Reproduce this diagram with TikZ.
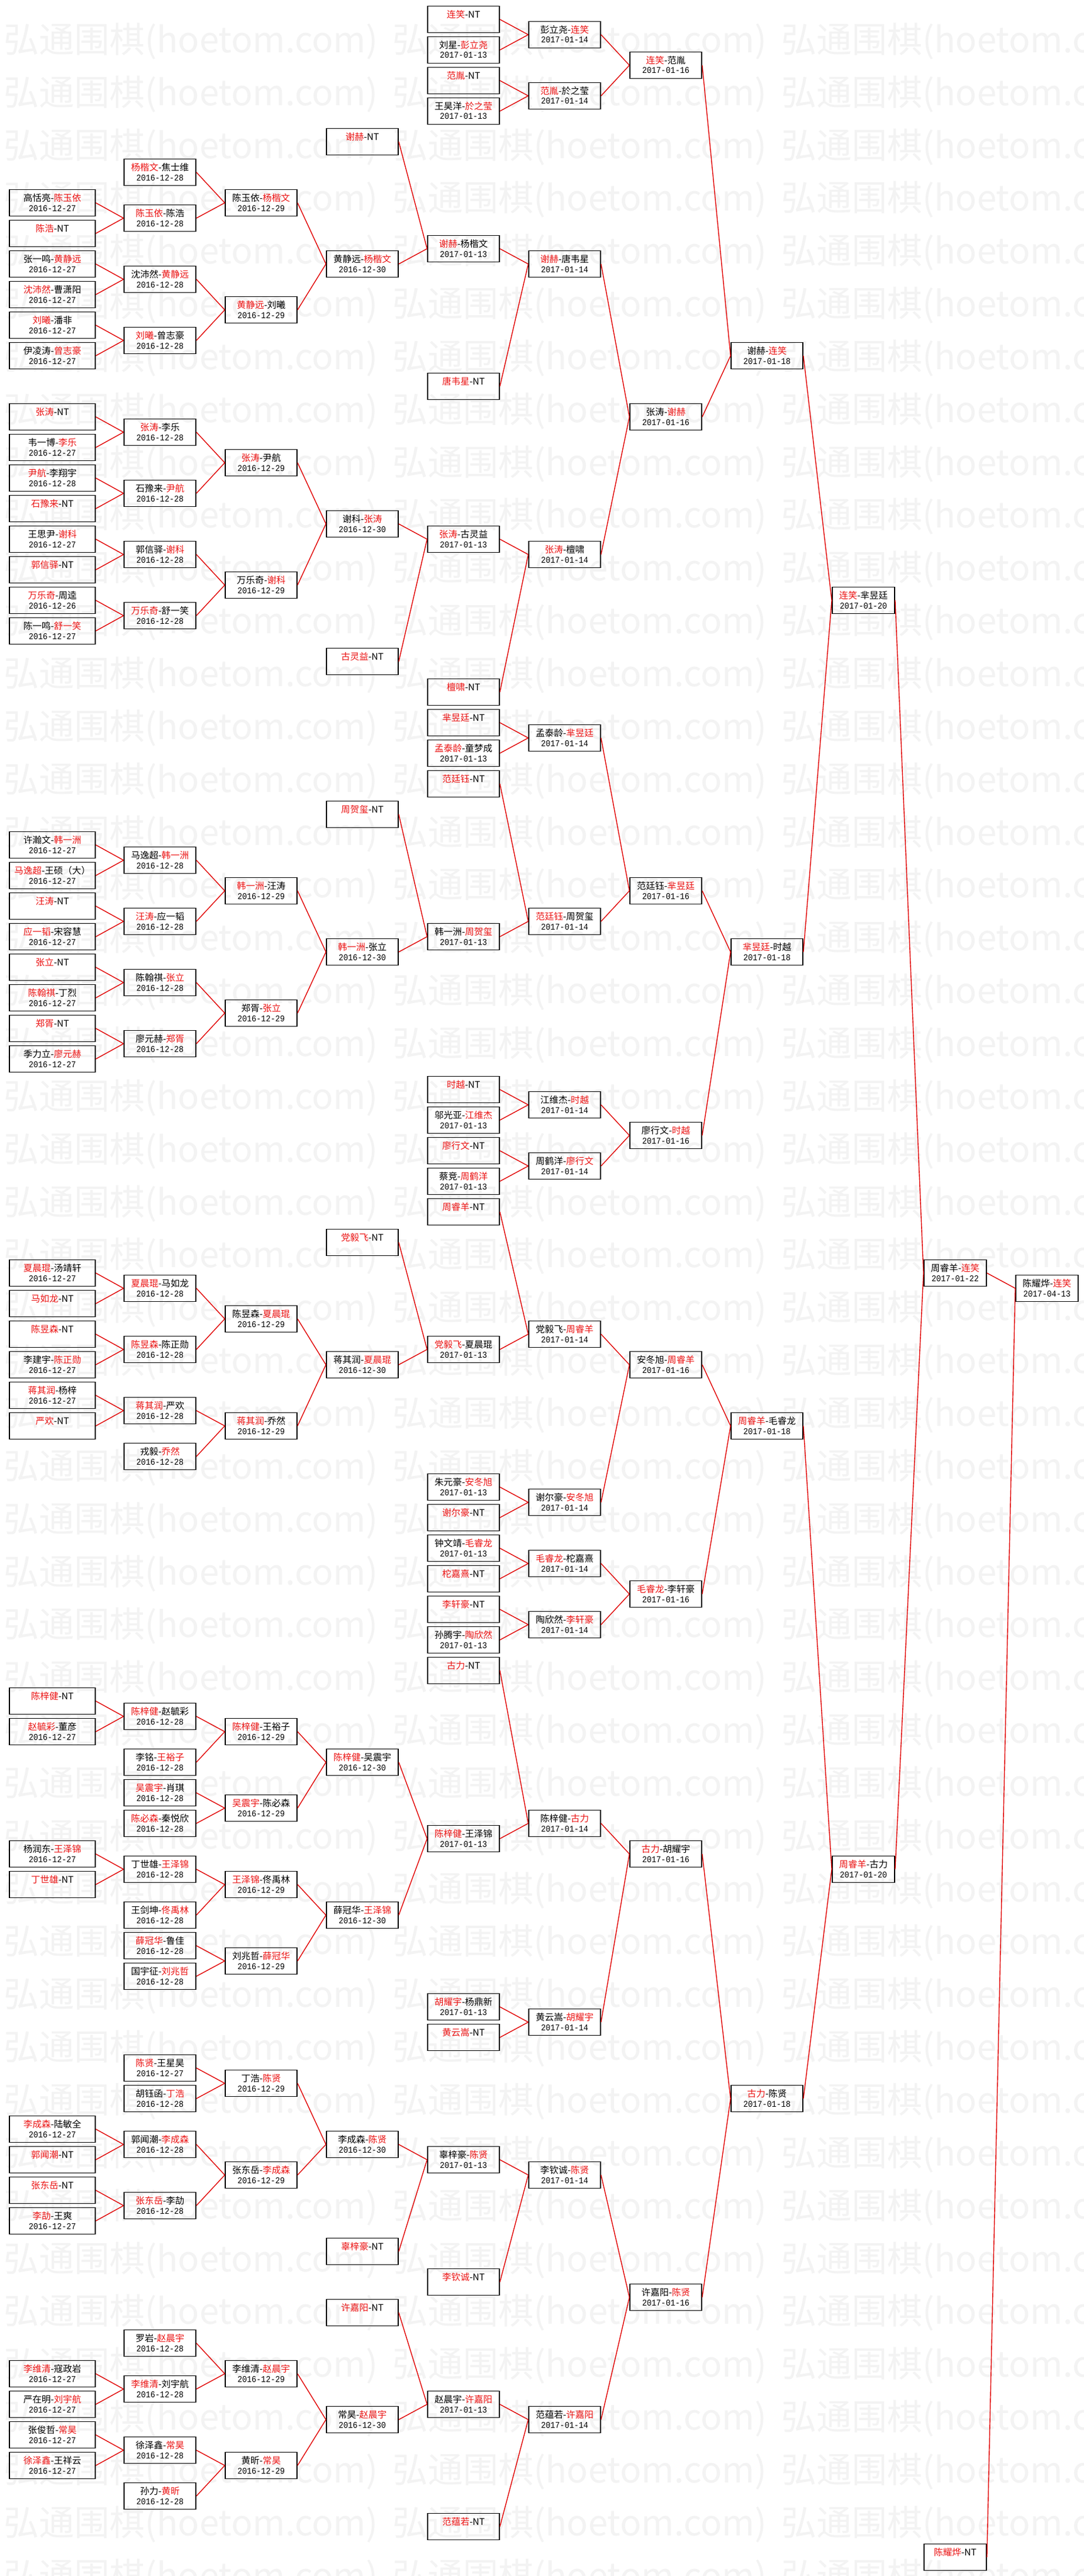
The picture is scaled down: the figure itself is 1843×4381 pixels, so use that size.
\documentclass[tikz,border=0pt]{standalone}
\usepackage{fontspec}
\setmainfont{Noto Sans CJK SC}
\newfontfamily\datefont[FakeStretch=0.89]{Liberation Mono}
\newfontfamily\wmfont{Noto Sans CJK SC}
\definecolor{winred}{RGB}{235,20,20}
\definecolor{conred}{RGB}{225,0,0}
\definecolor{wmgray}{RGB}{243,243,243}
\newcommand{\rd}[1]{\textcolor{winred}{#1}}
% column left edges and widths (px)
\def\cxA{16}\def\cwA{146}
\def\cxB{211}\def\cwB{122}
\def\cxC{383}\def\cwC{122}
\def\cxD{555}\def\cwD{122}
\def\cxE{727}\def\cwE{122}
\def\cxF{899}\def\cwF{122}
\def\cxG{1071}\def\cwG{122}
\def\cxH{1243}\def\cwH{122}
\def\cxI{1415}\def\cwI{106}
\def\cxJ{1571}\def\cwJ{106}
\def\cxK{1727}\def\cwK{106}
\tikzset{
  gbox/.style={draw=black,line width=1.8pt,rectangle,minimum height=45pt,inner sep=0pt},
  gname/.style={anchor=base,inner sep=0pt,font=\fontsize{15.5}{18}\selectfont},
  gdate/.style={anchor=base,inner sep=0pt,font=\datefont\fontsize{15}{18}\selectfont},
  conn/.style={draw=conred,line width=1.4pt},
  wm/.style={anchor=west,inner sep=0pt,text=wmgray,font=\wmfont\fontsize{60}{60}\selectfont}
}
% match box with date
\newcommand{\gm}[5]{%
  \pgfmathsetmacro{\bxX}{\csname cx#2\endcsname}%
  \pgfmathsetmacro{\bxW}{\csname cw#2\endcsname}%
  \pgfmathsetmacro{\bxY}{10.5+52*#3}%
  \node[gbox,minimum width=\bxW pt] (#1) at (\bxX+\bxW/2,\bxY+22.5) {};
  \node[gname] (#1-n) at (\bxX+\bxW/2,\bxY+19.7) {#4};
  \node[gdate] (#1-d) at (\bxX+\bxW/2,\bxY+36.5) {#5};
}
% bye box (one line)
\newcommand{\gn}[4]{%
  \pgfmathsetmacro{\bxX}{\csname cx#2\endcsname}%
  \pgfmathsetmacro{\bxW}{\csname cw#2\endcsname}%
  \pgfmathsetmacro{\bxY}{10.5+52*#3}%
  \node[gbox,minimum width=\bxW pt] (#1) at (\bxX+\bxW/2,\bxY+22.5) {};
  \node[gname] (#1-n) at (\bxX+\bxW/2,\bxY+19.7) {#4};
}
\newcommand{\cn}[3]{\draw[conn] (#2.east) -- (#1.west); \draw[conn] (#3.east) -- (#1.west);}
\begin{document}
\begin{tikzpicture}[x=1pt,y=-1pt]
\useasboundingbox (0,0) rectangle (1843,4381);
\fill[white] (0,0) rectangle (1843,4381);
\begin{scope}
\clip (0,0) rectangle (1843,4381);
\foreach \k in {0,...,48}{\foreach \j in {0,1,2}{
  \node[wm] (wm-\k-\j) at ({6+661*\j},{70+89.85*\k}) {弘通围棋(hoetom.com)};
}}
\end{scope}
% ---- top block
\gn{d1}{D}{4}{\rd{谢赫}-NT}
\gn{e1}{E}{0}{\rd{连笑}-NT}
\gm{e2}{E}{1}{刘星-\rd{彭立尧}}{2017-01-13}
\gn{e3}{E}{2}{\rd{范胤}-NT}
\gm{e4}{E}{3}{王昊洋-\rd{於之莹}}{2017-01-13}
\gm{f1}{F}{0.5}{彭立尧-\rd{连笑}}{2017-01-14}
\gm{f2}{F}{2.5}{\rd{范胤}-於之莹}{2017-01-14}
\gm{g1}{G}{1.5}{\rd{连笑}-范胤}{2017-01-16}
\gm{a1}{A}{6}{高恬亮-\rd{陈玉依}}{2016-12-27}
\gn{a2}{A}{7}{\rd{陈浩}-NT}
\gm{a3}{A}{8}{张一鸣-\rd{黄静远}}{2016-12-27}
\gm{a4}{A}{9}{\rd{沈沛然}-曹潇阳}{2016-12-27}
\gm{a5}{A}{10}{\rd{刘曦}-潘非}{2016-12-27}
\gm{a6}{A}{11}{伊凌涛-\rd{曾志豪}}{2016-12-27}
\gm{b1}{B}{5}{\rd{杨楷文}-焦士维}{2016-12-28}
\gm{b2}{B}{6.5}{\rd{陈玉依}-陈浩}{2016-12-28}
\gm{b3}{B}{8.5}{沈沛然-\rd{黄静远}}{2016-12-28}
\gm{b4}{B}{10.5}{\rd{刘曦}-曾志豪}{2016-12-28}
\gm{c1}{C}{6}{陈玉依-\rd{杨楷文}}{2016-12-29}
\gm{c2}{C}{9.5}{\rd{黄静远}-刘曦}{2016-12-29}
\gm{d2}{D}{8}{黄静远-\rd{杨楷文}}{2016-12-30}
\gm{e5}{E}{7.5}{\rd{谢赫}-杨楷文}{2017-01-13}
\gn{e6}{E}{12}{\rd{唐韦星}-NT}
\gm{f3}{F}{8}{\rd{谢赫}-唐韦星}{2017-01-14}
\gn{a7}{A}{13}{\rd{张涛}-NT}
\gm{a8}{A}{14}{韦一博-\rd{李乐}}{2016-12-27}
\gm{a9}{A}{15}{\rd{尹航}-李翔宇}{2016-12-28}
\gn{a10}{A}{16}{\rd{石豫来}-NT}
\gm{a11}{A}{17}{王思尹-\rd{谢科}}{2016-12-27}
\gn{a12}{A}{18}{\rd{郭信驿}-NT}
\gm{a13}{A}{19}{\rd{万乐奇}-周逵}{2016-12-26}
\gm{a14}{A}{20}{陈一鸣-\rd{舒一笑}}{2016-12-27}
\gm{b5}{B}{13.5}{\rd{张涛}-李乐}{2016-12-28}
\gm{b6}{B}{15.5}{石豫来-\rd{尹航}}{2016-12-28}
\gm{b7}{B}{17.5}{郭信驿-\rd{谢科}}{2016-12-28}
\gm{b8}{B}{19.5}{\rd{万乐奇}-舒一笑}{2016-12-28}
\gm{c3}{C}{14.5}{\rd{张涛}-尹航}{2016-12-29}
\gm{c4}{C}{18.5}{万乐奇-\rd{谢科}}{2016-12-29}
\gm{d3}{D}{16.5}{谢科-\rd{张涛}}{2016-12-30}
\gn{d4}{D}{21}{\rd{古灵益}-NT}
\gm{e7}{E}{17}{\rd{张涛}-古灵益}{2017-01-13}
\gn{e8}{E}{22}{\rd{檀啸}-NT}
\gm{f4}{F}{17.5}{\rd{张涛}-檀啸}{2017-01-14}
\gm{g2}{G}{13}{张涛-\rd{谢赫}}{2017-01-16}
\gm{h1}{H}{11}{谢赫-\rd{连笑}}{2017-01-18}
% ---- second block
\gn{e9}{E}{23}{\rd{芈昱廷}-NT}
\gm{e10}{E}{24}{\rd{孟泰龄}-童梦成}{2017-01-13}
\gm{f5}{F}{23.5}{孟泰龄-\rd{芈昱廷}}{2017-01-14}
\gn{e11}{E}{25}{\rd{范廷钰}-NT}
\gn{d5}{D}{26}{\rd{周贺玺}-NT}
\gm{a15}{A}{27}{许瀚文-\rd{韩一洲}}{2016-12-27}
\gm{a16}{A}{28}{\rd{马逸超}-王硕（大）}{2016-12-27}
\gn{a17}{A}{29}{\rd{汪涛}-NT}
\gm{a18}{A}{30}{\rd{应一韬}-宋容慧}{2016-12-27}
\gn{a19}{A}{31}{\rd{张立}-NT}
\gm{a20}{A}{32}{\rd{陈翰祺}-丁烈}{2016-12-27}
\gn{a21}{A}{33}{\rd{郑胥}-NT}
\gm{a22}{A}{34}{季力立-\rd{廖元赫}}{2016-12-27}
\gm{b9}{B}{27.5}{马逸超-\rd{韩一洲}}{2016-12-28}
\gm{b10}{B}{29.5}{\rd{汪涛}-应一韬}{2016-12-28}
\gm{b11}{B}{31.5}{陈翰祺-\rd{张立}}{2016-12-28}
\gm{b12}{B}{33.5}{廖元赫-\rd{郑胥}}{2016-12-28}
\gm{c5}{C}{28.5}{\rd{韩一洲}-汪涛}{2016-12-29}
\gm{c6}{C}{32.5}{郑胥-\rd{张立}}{2016-12-29}
\gm{d6}{D}{30.5}{\rd{韩一洲}-张立}{2016-12-30}
\gm{e12}{E}{30}{韩一洲-\rd{周贺玺}}{2017-01-13}
\gm{f6}{F}{29.5}{\rd{范廷钰}-周贺玺}{2017-01-14}
\gm{g3}{G}{28.5}{范廷钰-\rd{芈昱廷}}{2017-01-16}
\gn{e13}{E}{35}{\rd{时越}-NT}
\gm{e14}{E}{36}{邬光亚-\rd{江维杰}}{2017-01-13}
\gn{e15}{E}{37}{\rd{廖行文}-NT}
\gm{e16}{E}{38}{蔡竞-\rd{周鹤洋}}{2017-01-13}
\gm{f7}{F}{35.5}{江维杰-\rd{时越}}{2017-01-14}
\gm{f8}{F}{37.5}{周鹤洋-\rd{廖行文}}{2017-01-14}
\gm{g4}{G}{36.5}{廖行文-\rd{时越}}{2017-01-16}
\gm{h2}{H}{30.5}{\rd{芈昱廷}-时越}{2017-01-18}
\gm{i1}{I}{19}{\rd{连笑}-芈昱廷}{2017-01-20}
% ---- third block
\gn{e17}{E}{39}{\rd{周睿羊}-NT}
\gn{d7}{D}{40}{\rd{党毅飞}-NT}
\gm{a23}{A}{41}{\rd{夏晨琨}-汤靖轩}{2016-12-27}
\gn{a24}{A}{42}{\rd{马如龙}-NT}
\gn{a25}{A}{43}{\rd{陈昱森}-NT}
\gm{a26}{A}{44}{李建宇-\rd{陈正勋}}{2016-12-27}
\gm{a27}{A}{45}{\rd{蒋其润}-杨梓}{2016-12-27}
\gn{a28}{A}{46}{\rd{严欢}-NT}
\gm{b13}{B}{41.5}{\rd{夏晨琨}-马如龙}{2016-12-28}
\gm{b14}{B}{43.5}{\rd{陈昱森}-陈正勋}{2016-12-28}
\gm{b15}{B}{45.5}{\rd{蒋其润}-严欢}{2016-12-28}
\gm{b16}{B}{47}{戎毅-\rd{乔然}}{2016-12-28}
\gm{c7}{C}{42.5}{陈昱森-\rd{夏晨琨}}{2016-12-29}
\gm{c8}{C}{46}{\rd{蒋其润}-乔然}{2016-12-29}
\gm{d8}{D}{44}{蒋其润-\rd{夏晨琨}}{2016-12-30}
\gm{e18}{E}{43.5}{\rd{党毅飞}-夏晨琨}{2017-01-13}
\gm{f9}{F}{43}{党毅飞-\rd{周睿羊}}{2017-01-14}
\gm{e19}{E}{48}{朱元豪-\rd{安冬旭}}{2017-01-13}
\gn{e20}{E}{49}{\rd{谢尔豪}-NT}
\gm{f10}{F}{48.5}{谢尔豪-\rd{安冬旭}}{2017-01-14}
\gm{g5}{G}{44}{安冬旭-\rd{周睿羊}}{2017-01-16}
\gm{e21}{E}{50}{钟文靖-\rd{毛睿龙}}{2017-01-13}
\gn{e22}{E}{51}{\rd{柁嘉熹}-NT}
\gn{e23}{E}{52}{\rd{李轩豪}-NT}
\gm{e24}{E}{53}{孙腾宇-\rd{陶欣然}}{2017-01-13}
\gm{f11}{F}{50.5}{\rd{毛睿龙}-柁嘉熹}{2017-01-14}
\gm{f12}{F}{52.5}{陶欣然-\rd{李轩豪}}{2017-01-14}
\gm{g6}{G}{51.5}{\rd{毛睿龙}-李轩豪}{2017-01-16}
\gm{h3}{H}{46}{\rd{周睿羊}-毛睿龙}{2017-01-18}
% ---- fourth block
\gn{e25}{E}{54}{\rd{古力}-NT}
\gn{a29}{A}{55}{\rd{陈梓健}-NT}
\gm{a30}{A}{56}{\rd{赵毓彩}-董彦}{2016-12-27}
\gm{b17}{B}{55.5}{\rd{陈梓健}-赵毓彩}{2016-12-28}
\gm{b18}{B}{57}{李铭-\rd{王裕子}}{2016-12-28}
\gm{b19}{B}{58}{\rd{吴震宇}-肖琪}{2016-12-28}
\gm{b20}{B}{59}{\rd{陈必森}-秦悦欣}{2016-12-28}
\gm{c9}{C}{56}{\rd{陈梓健}-王裕子}{2016-12-29}
\gm{c10}{C}{58.5}{\rd{吴震宇}-陈必森}{2016-12-29}
\gm{d9}{D}{57}{\rd{陈梓健}-吴震宇}{2016-12-30}
\gm{a31}{A}{60}{杨润东-\rd{王泽锦}}{2016-12-27}
\gn{a32}{A}{61}{\rd{丁世雄}-NT}
\gm{b21}{B}{60.5}{丁世雄-\rd{王泽锦}}{2016-12-28}
\gm{b22}{B}{62}{王剑坤-\rd{佟禹林}}{2016-12-28}
\gm{b23}{B}{63}{\rd{薛冠华}-鲁佳}{2016-12-28}
\gm{b24}{B}{64}{国宇征-\rd{刘兆哲}}{2016-12-28}
\gm{c11}{C}{61}{\rd{王泽锦}-佟禹林}{2016-12-29}
\gm{c12}{C}{63.5}{刘兆哲-\rd{薛冠华}}{2016-12-29}
\gm{d10}{D}{62}{薛冠华-\rd{王泽锦}}{2016-12-30}
\gm{e26}{E}{59.5}{\rd{陈梓健}-王泽锦}{2017-01-13}
\gm{f13}{F}{59}{陈梓健-\rd{古力}}{2017-01-14}
\gm{e27}{E}{65}{\rd{胡耀宇}-杨鼎新}{2017-01-13}
\gn{e28}{E}{66}{\rd{黄云嵩}-NT}
\gm{f14}{F}{65.5}{黄云嵩-\rd{胡耀宇}}{2017-01-14}
\gm{g7}{G}{60}{\rd{古力}-胡耀宇}{2017-01-16}
\gm{b25}{B}{67}{\rd{陈贤}-王星昊}{2016-12-27}
\gm{b26}{B}{68}{胡钰函-\rd{丁浩}}{2016-12-28}
\gm{c13}{C}{67.5}{丁浩-\rd{陈贤}}{2016-12-29}
\gm{a33}{A}{69}{\rd{李成森}-陆敏全}{2016-12-27}
\gn{a34}{A}{70}{\rd{郭闻潮}-NT}
\gn{a35}{A}{71}{\rd{张东岳}-NT}
\gm{a36}{A}{72}{\rd{李劼}-王爽}{2016-12-27}
\gm{b27}{B}{69.5}{郭闻潮-\rd{李成森}}{2016-12-28}
\gm{b28}{B}{71.5}{\rd{张东岳}-李劼}{2016-12-28}
\gm{c14}{C}{70.5}{张东岳-\rd{李成森}}{2016-12-29}
\gm{d11}{D}{69.5}{李成森-\rd{陈贤}}{2016-12-30}
\gn{d12}{D}{73}{\rd{辜梓豪}-NT}
\gm{e29}{E}{70}{辜梓豪-\rd{陈贤}}{2017-01-13}
\gn{e30}{E}{74}{\rd{李钦诚}-NT}
\gm{f15}{F}{70.5}{李钦诚-\rd{陈贤}}{2017-01-14}
\gn{d13}{D}{75}{\rd{许嘉阳}-NT}
\gm{b29}{B}{76}{罗岩-\rd{赵晨宇}}{2016-12-28}
\gm{a37}{A}{77}{\rd{李维清}-寇政岩}{2016-12-27}
\gm{a38}{A}{78}{严在明-\rd{刘宇航}}{2016-12-27}
\gm{a39}{A}{79}{张俊哲-\rd{常昊}}{2016-12-27}
\gm{a40}{A}{80}{\rd{徐泽鑫}-王祥云}{2016-12-27}
\gm{b30}{B}{77.5}{\rd{李维清}-刘宇航}{2016-12-28}
\gm{b31}{B}{79.5}{徐泽鑫-\rd{常昊}}{2016-12-28}
\gm{b32}{B}{81}{孙力-\rd{黄昕}}{2016-12-28}
\gm{c15}{C}{77}{李维清-\rd{赵晨宇}}{2016-12-29}
\gm{c16}{C}{80}{黄昕-\rd{常昊}}{2016-12-29}
\gm{d14}{D}{78.5}{常昊-\rd{赵晨宇}}{2016-12-30}
\gm{e31}{E}{78}{赵晨宇-\rd{许嘉阳}}{2017-01-13}
\gn{e32}{E}{82}{\rd{范蕴若}-NT}
\gm{f16}{F}{78.5}{范蕴若-\rd{许嘉阳}}{2017-01-14}
\gm{g8}{G}{74.5}{许嘉阳-\rd{陈贤}}{2017-01-16}
\gm{h4}{H}{68}{\rd{古力}-陈贤}{2017-01-18}
\gm{i2}{I}{60.5}{\rd{周睿羊}-古力}{2017-01-20}
\gm{j1}{J}{41}{周睿羊-\rd{连笑}}{2017-01-22}
\gn{j2}{J}{83}{\rd{陈耀烨}-NT}
\gm{k1}{K}{41.5}{陈耀烨-\rd{连笑}}{2017-04-13}
% ---- connectors
\cn{f1}{e1}{e2}\cn{f2}{e3}{e4}\cn{g1}{f1}{f2}
\cn{b2}{a1}{a2}\cn{b3}{a3}{a4}\cn{b4}{a5}{a6}
\cn{c1}{b1}{b2}\cn{c2}{b3}{b4}\cn{d2}{c1}{c2}
\cn{e5}{d1}{d2}\cn{f3}{e5}{e6}
\cn{b5}{a7}{a8}\cn{b6}{a9}{a10}\cn{b7}{a11}{a12}\cn{b8}{a13}{a14}
\cn{c3}{b5}{b6}\cn{c4}{b7}{b8}\cn{d3}{c3}{c4}
\cn{e7}{d3}{d4}\cn{f4}{e7}{e8}\cn{g2}{f3}{f4}\cn{h1}{g1}{g2}
\cn{f5}{e9}{e10}
\cn{b9}{a15}{a16}\cn{b10}{a17}{a18}\cn{b11}{a19}{a20}\cn{b12}{a21}{a22}
\cn{c5}{b9}{b10}\cn{c6}{b11}{b12}\cn{d6}{c5}{c6}
\cn{e12}{d5}{d6}\cn{f6}{e11}{e12}\cn{g3}{f5}{f6}
\cn{f7}{e13}{e14}\cn{f8}{e15}{e16}\cn{g4}{f7}{f8}\cn{h2}{g3}{g4}\cn{i1}{h1}{h2}
\cn{b13}{a23}{a24}\cn{b14}{a25}{a26}\cn{b15}{a27}{a28}
\cn{c7}{b13}{b14}\cn{c8}{b15}{b16}\cn{d8}{c7}{c8}
\cn{e18}{d7}{d8}\cn{f9}{e17}{e18}
\cn{f10}{e19}{e20}\cn{g5}{f9}{f10}
\cn{f11}{e21}{e22}\cn{f12}{e23}{e24}\cn{g6}{f11}{f12}\cn{h3}{g5}{g6}
\cn{b17}{a29}{a30}\cn{c9}{b17}{b18}\cn{c10}{b19}{b20}\cn{d9}{c9}{c10}
\cn{b21}{a31}{a32}\cn{c11}{b21}{b22}\cn{c12}{b23}{b24}\cn{d10}{c11}{c12}
\cn{e26}{d9}{d10}\cn{f13}{e25}{e26}
\cn{f14}{e27}{e28}\cn{g7}{f13}{f14}
\cn{c13}{b25}{b26}
\cn{b27}{a33}{a34}\cn{b28}{a35}{a36}\cn{c14}{b27}{b28}\cn{d11}{c13}{c14}
\cn{e29}{d11}{d12}\cn{f15}{e29}{e30}
\cn{b30}{a37}{a38}\cn{b31}{a39}{a40}
\cn{c15}{b29}{b30}\cn{c16}{b31}{b32}\cn{d14}{c15}{c16}
\cn{e31}{d13}{d14}\cn{f16}{e31}{e32}\cn{g8}{f15}{f16}\cn{h4}{g7}{g8}
\cn{i2}{h3}{h4}\cn{j1}{i1}{i2}\cn{k1}{j1}{j2}
\end{tikzpicture}
\end{document}
